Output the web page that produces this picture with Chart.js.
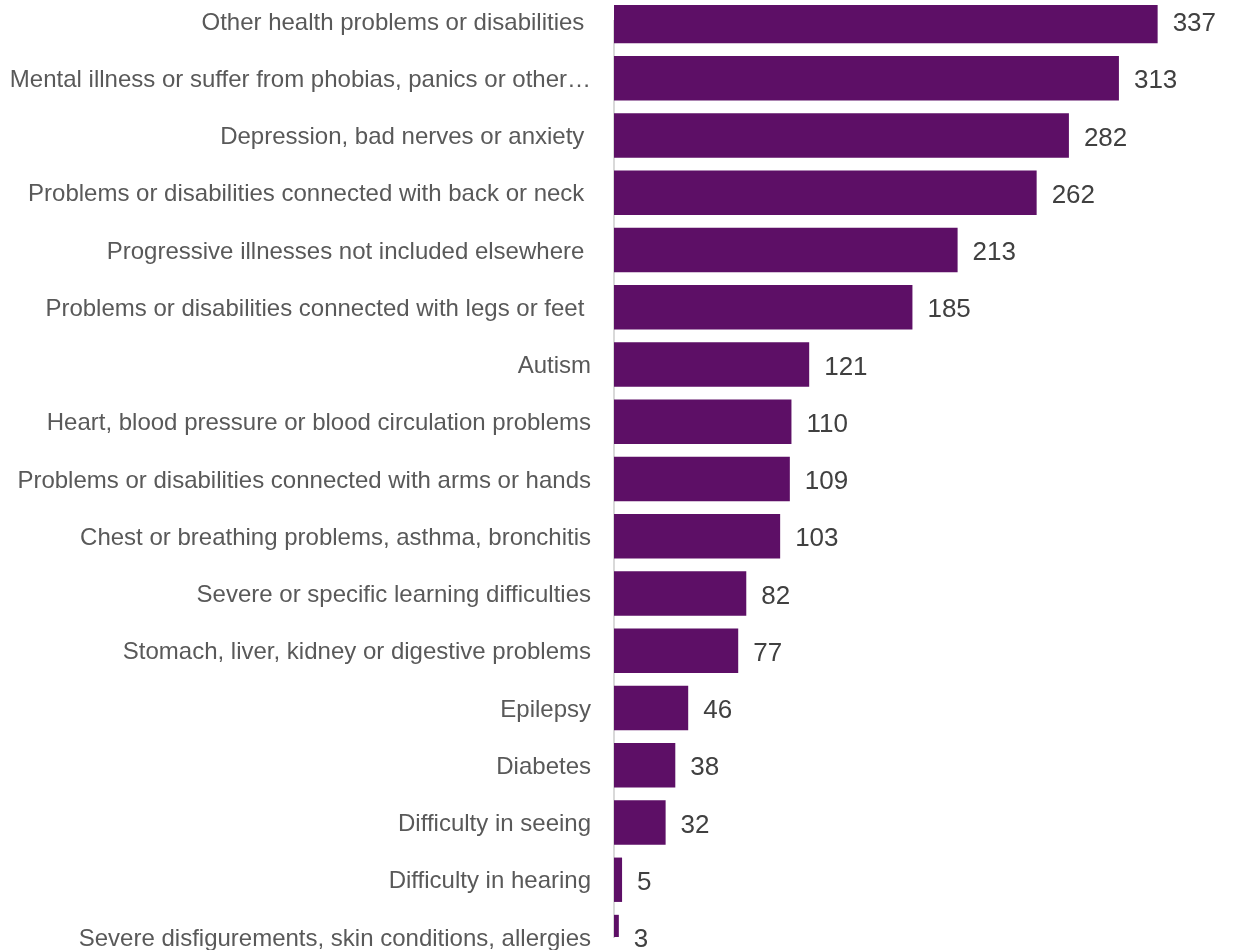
<!DOCTYPE html>
<html>
<head>
<meta charset="utf-8">
<title>Health conditions</title>
<script src="https://cdn.jsdelivr.net/npm/chart.js@4.4.0/dist/chart.umd.min.js"></script>
<style>
  html, body { margin: 0; padding: 0; background: #fff; overflow: hidden; }
  body { width: 1236px; height: 950px; position: relative; }
  #wrap { position: absolute; left: 0; top: -14px; width: 1236px; height: 986px; }
</style>
</head>
<body>
<div id="wrap"><canvas id="grafica"></canvas></div>
<script>
const condiciones = [
    'Other health problems or disabilities ',
    'Mental illness or suffer from phobias, panics or other\u2026',
    'Depression, bad nerves or anxiety ',
    'Problems or disabilities connected with back or neck ',
    'Progressive illnesses not included elsewhere ',
    'Problems or disabilities connected with legs or feet ',
    'Autism',
    'Heart, blood pressure or blood circulation problems',
    'Problems or disabilities connected with arms or hands',
    'Chest or breathing problems, asthma, bronchitis',
    'Severe or specific learning difficulties',
    'Stomach, liver, kidney or digestive problems',
    'Epilepsy',
    'Diabetes',
    'Difficulty in seeing',
    'Difficulty in hearing',
    'Severe disfigurements, skin conditions, allergies'
];
const totales = [337, 313, 282, 262, 213, 185, 121, 110, 109, 103, 82, 77, 46, 38, 32, 5, 3];
const ejeMax = 380;

// writes each bar's value just past its end
const etiquetasValor = {
    id: 'etiquetasValor',
    afterDatasetsDraw(chart) {
        const ctx = chart.ctx;
        const meta = chart.getDatasetMeta(0);
        ctx.save();
        ctx.font = '26px Arial, "Liberation Sans", sans-serif';
        ctx.fillStyle = '#404040';
        ctx.textAlign = 'left';
        ctx.textBaseline = 'middle';
        meta.data.forEach((bar, i) => {
            ctx.fillText(String(totales[i]), bar.x + 15, bar.y + 3);
        });
        ctx.restore();
    }
};

const ctx = document.getElementById('grafica').getContext('2d');
new Chart(ctx, {
    type: 'bar',
    data: {
        labels: condiciones,
        datasets: [{
            data: totales,
            backgroundColor: '#5d0f66',
            borderWidth: 0,
            categoryPercentage: 1,
            barPercentage: 0.775,
            clip: { left: false, right: false, top: 16, bottom: 0 }
        }]
    },
    plugins: [etiquetasValor],
    options: {
        indexAxis: 'y',
        responsive: true,
        maintainAspectRatio: false,
        animation: false,
        layout: { padding: { top: 22, bottom: 12, left: 0, right: 9 } },
        plugins: {
            legend: { display: false },
            tooltip: { enabled: false }
        },
        scales: {
            x: {
                display: false,
                min: 0,
                max: ejeMax
            },
            y: {
                offset: false,
                grid: { display: false, drawTicks: false },
                border: { display: true, color: '#d9d9d9', width: 2 },
                ticks: {
                    color: '#595959',
                    padding: 23,
                    labelOffset: 2,
                    autoSkip: false,
                    font: { family: 'Arial, "Liberation Sans", sans-serif', size: 24, lineHeight: 1 }
                },
                afterFit(scale) { scale.width = 614; }
            }
        }
    }
});
</script>
</body>
</html>
